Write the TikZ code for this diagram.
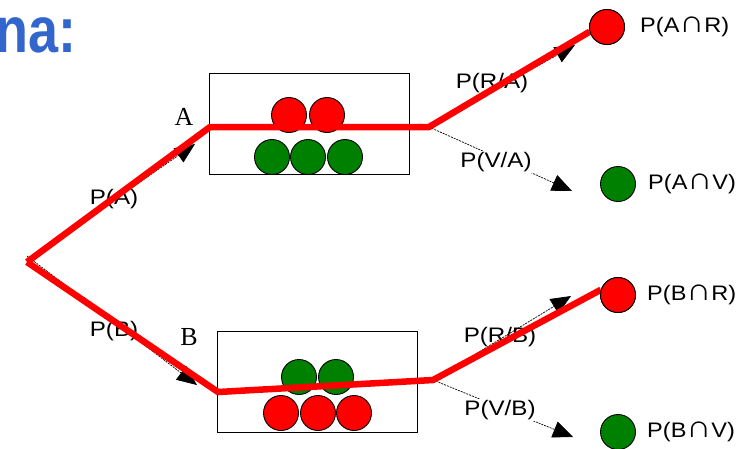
\documentclass[tikz,border=0pt]{standalone}
\usepackage{fontspec}
\setmainfont{Liberation Serif}
\newfontfamily\lsans{Liberation Sans}
\usetikzlibrary{arrows.meta}
\definecolor{tred}{RGB}{255,0,0}
\definecolor{tgreen}{RGB}{0,128,0}
\definecolor{tblue}{RGB}{51,102,204}
\newcommand{\bigcapsym}{{\fontsize{31}{31}\selectfont ∩}}
\begin{document}
\begin{tikzpicture}[x=1pt,y=-1pt,
  ball/.style={circle,draw=black,line width=0.9pt,minimum size=35pt,inner sep=0pt},
  redball/.style={ball,fill=tred},
  greenball/.style={ball,fill=tgreen},
  urn/.style={draw=black,line width=0.8pt,minimum width=200pt,minimum height=101pt,inner sep=0pt},
  thinarrow/.style={draw=black,line width=0.7pt,dash pattern=on 2pt off 1pt,-{Triangle[length=20pt,width=17pt]}},
  plabel/.style={font=\lsans\fontsize{21}{24}\selectfont,inner sep=1pt,xscale=1.15},
  rlabel/.style={font=\lsans\fontsize{21}{24}\selectfont,inner sep=0pt,anchor=west,xscale=1.12},
  letter/.style={font=\fontsize{26}{28}\selectfont,inner sep=0pt},
  redline/.style={draw=tred,line width=6.5pt,line join=round}
]
\useasboundingbox (0,0) rectangle (743,448);
% title
\node[font=\lsans\bfseries\fontsize{54}{60}\selectfont,text=tblue,anchor=base west,inner sep=0pt,yscale=1.2] (title) at (-5,52) {na:};
% urns
\node[urn] (boxA) at (309,123.5) {};
\node[urn] (boxB) at (317.5,381.5) {};
\node[redball] (a1) at (289,115) {};
\node[redball] (a2) at (327,115) {};
\node[greenball] (a3) at (272,157) {};
\node[greenball] (a4) at (308,157) {};
\node[greenball] (a5) at (345,157) {};
\node[greenball] (b1) at (299,377) {};
\node[greenball] (b2) at (336,377) {};
\node[redball] (b3) at (281,413) {};
\node[redball] (b4) at (318,413) {};
\node[redball] (b5) at (354,413) {};
% junctions
\coordinate (root) at (27,262);
\coordinate (aL) at (210,127);
\coordinate (aR) at (429,127);
\coordinate (bL) at (218,392);
\coordinate (bR) at (433,380);
\coordinate (tA) at (195,144);
\coordinate (tB) at (197,385);
\coordinate (tAR) at (575,45);
\coordinate (tAV) at (572,191);
\coordinate (tBR) at (571,296);
\coordinate (tBV) at (573,437);
% end balls
\node[redball] (AR) at (607,27) {};
\node[greenball] (AV) at (618,184) {};
\node[redball] (BR) at (618,295) {};
\node[greenball] (BV) at (618,432) {};
% thin arrows
\draw[thinarrow] ([yshift=6pt]root) -- (tB);
\draw[thinarrow] ([yshift=2pt]root) -- (tA);
\draw[thinarrow] (aR) -- (tAR);
\draw[thinarrow] (aR) -- (tAV);
\draw[thinarrow] (bR) -- (tBR);
\draw[thinarrow] (bR) -- (tBV);
% labels
\node[plabel] (pA) at (114,199) {P(A)};
\node[plabel] (pB) at (114,331) {P(B)};
\node[plabel] (pRA) at (492,83) {P(R/A)};
\node[plabel,fill=white] (pVA) at (496,162) {P(V/A)};
\node[plabel] (pRB) at (500,337) {P(R/B)};
\node[plabel,fill=white] (pVB) at (500,410) {P(V/B)};
\node[letter] (lA) at (184,117) {A};
\node[letter] (lB) at (189,337) {B};
% red paths
\draw[redline] (root) -- (aL) -- (aR) -- (AR.195);
\draw[redline] (root) -- (bL) -- (bR) -- (BR.163);
\node[redball] at (AR) {};
\node[redball] at (BR) {};
% end labels
\node[rlabel] (eAR) at (640,27) {P(A\bigcapsym R)};
\node[rlabel] (eAV) at (648,184) {P(A\bigcapsym V)};
\node[rlabel] (eBR) at (647,295) {P(B\bigcapsym R)};
\node[rlabel] (eBV) at (647,432) {P(B\bigcapsym V)};
\end{tikzpicture}
\end{document}
